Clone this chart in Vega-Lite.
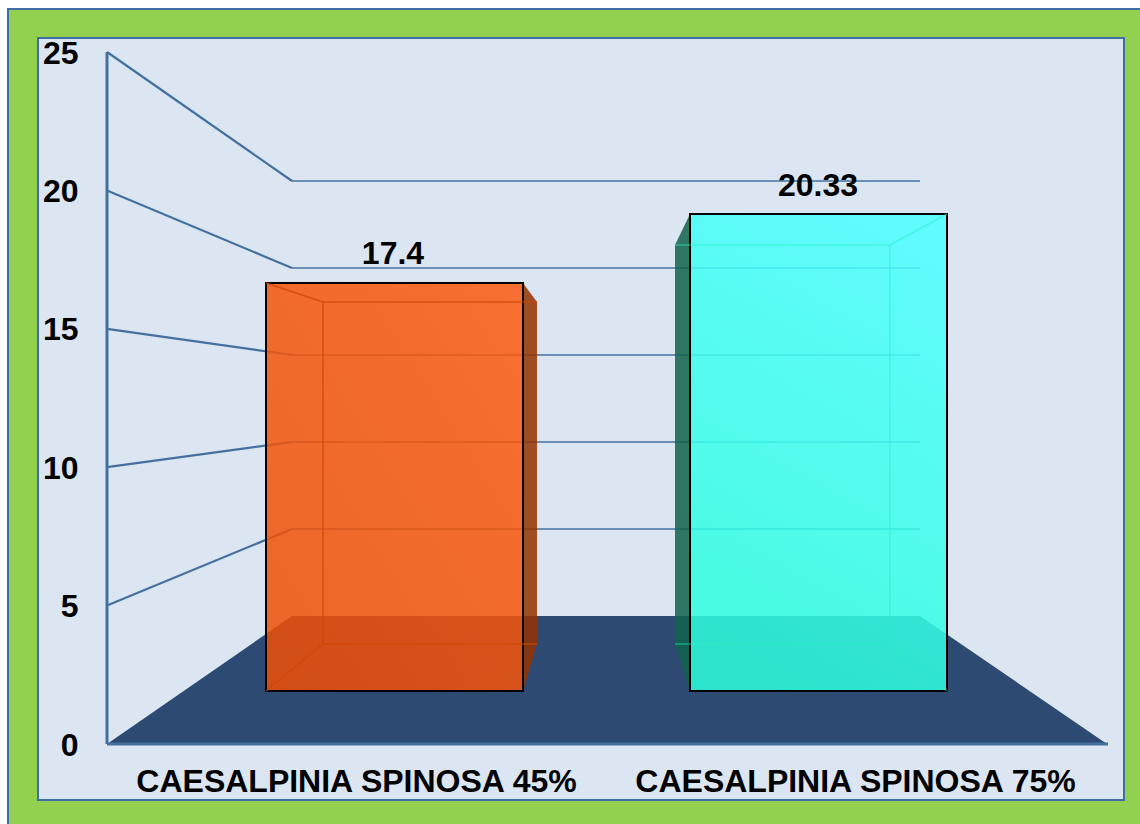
{
"$schema":"https://vega.github.io/schema/vega-lite/v6.json",
"width":1086,"height":762,"autosize":"none",
"padding":{"left":38,"top":38,"right":16,"bottom":24},
"background":"white",
"view":{"stroke":null,"fill":null},
"datasets":{
"frame":[{"part":"outer","x":-99,"x2":1060,"y":26.55,"y2":-3.5}],
"panel":[{"part":"panel","x":-69,"x2":1017,"y":25.506,"y2":-2.023}],
"floor":[{"x":0,"y":0,"y2":0},{"x":185,"y":4.624,"y2":0},{"x":813,"y":4.624,"y2":0},{"x":1000,"y":0,"y2":0}],
"slants":[
{"g":5,"x":0,"y":5},{"g":5,"x":185,"y":7.767},
{"g":10,"x":0,"y":10},{"g":10,"x":185,"y":10.91},
{"g":15,"x":0,"y":15},{"g":15,"x":185,"y":14.053},
{"g":20,"x":0,"y":20},{"g":20,"x":185,"y":17.197},
{"g":25,"x":0,"y":25},{"g":25,"x":185,"y":20.34}],
"backs":[
{"g":5,"x":185,"y":7.767},{"g":5,"x":813,"y":7.767},
{"g":10,"x":185,"y":10.91},{"g":10,"x":813,"y":10.91},
{"g":15,"x":185,"y":14.053},{"g":15,"x":813,"y":14.053},
{"g":20,"x":185,"y":17.197},{"g":20,"x":813,"y":17.197},
{"g":25,"x":185,"y":20.34},{"g":25,"x":813,"y":20.34}],
"axisLines":[
{"g":"y","x":0,"y":0},{"g":"y","x":0,"y":25},
{"g":"x","x":0,"y":0},{"g":"x","x":1001,"y":0}],
"side1":[{"x":416,"y":16.655,"y2":1.915},{"x":430,"y":15.968,"y2":3.613}],
"side2":[{"x":568,"y":18.027,"y2":3.613},{"x":583,"y":19.147,"y2":1.915}],
"bar1":[{"series":"CAESALPINIA SPINOSA 45%","value":17.4,"x":159,"x2":416,"y":16.655,"y2":1.915}],
"bar2":[{"series":"CAESALPINIA SPINOSA 75%","value":20.33,"x":583,"x2":840,"y":19.147,"y2":1.915}],
"inner1":[
{"s":"a","x":159,"y":16.655},{"s":"a","x":216,"y":15.968},
{"s":"b","x":216,"y":15.968},{"s":"b","x":430,"y":15.968},
{"s":"c","x":216,"y":15.968},{"s":"c","x":216,"y":3.613},
{"s":"d","x":216,"y":3.613},{"s":"d","x":430,"y":3.613},
{"s":"e","x":159,"y":1.915},{"s":"e","x":216,"y":3.613}],
"inner2":[
{"s":"a","x":840,"y":19.147},{"s":"a","x":783,"y":18.027},
{"s":"b","x":783,"y":18.027},{"s":"b","x":568,"y":18.027},
{"s":"c","x":783,"y":18.027},{"s":"c","x":783,"y":3.613},
{"s":"d","x":783,"y":3.613},{"s":"d","x":568,"y":3.613},
{"s":"e","x":840,"y":1.915},{"s":"e","x":783,"y":3.613}],
"valueLabels":[{"label":"17.4","x":286,"y":17.72},{"label":"20.33","x":711,"y":20.17}],
"catLabels":[{"label":"CAESALPINIA SPINOSA 45%","x":249.5,"y":-1.39},{"label":"CAESALPINIA SPINOSA 75%","x":748.5,"y":-1.39}]
},
"encoding":{
"x":{"field":"x","type":"quantitative","scale":{"domain":[-69,1017],"nice":false,"zero":false},"axis":null},
"y":{"field":"y","type":"quantitative","scale":{"domain":[-2.023,25.506],"nice":false,"zero":false},
"axis":{"title":null,"values":[0,5,10,15,20,25],"orient":"left","offset":-40,"domain":false,"ticks":false,"grid":false,"labelPadding":0,"labelOffset":1,"labelFont":"Liberation Sans","labelFontWeight":"bold","labelFontSize":32,"labelColor":"#000000","labelAlign":"right","labelBaseline":"middle","labelOverlap":false,"labelFlush":false,"zindex":2}}
},
"layer":[
{"data":{"name":"frame"},"mark":{"type":"rect","fill":"#92d050","stroke":"#3f6ea5","strokeWidth":2},"encoding":{"x2":{"field":"x2"},"y2":{"field":"y2"}}},
{"data":{"name":"panel"},"mark":{"type":"rect","fill":"#dce6f2","stroke":"#3f6ea5","strokeWidth":2},"encoding":{"x2":{"field":"x2"},"y2":{"field":"y2"}}},
{"data":{"name":"floor"},"mark":{"type":"area","fill":"#2c4a72","interpolate":"linear"},"encoding":{"y2":{"field":"y2"}}},
{"data":{"name":"slants"},"mark":{"type":"line","stroke":"#44709f","strokeWidth":2.2},"encoding":{"detail":{"field":"g"}}},
{"data":{"name":"backs"},"mark":{"type":"line","stroke":"#44709f","strokeWidth":1.5},"encoding":{"detail":{"field":"g"}}},
{"data":{"name":"axisLines"},"mark":{"type":"line","stroke":"#44709f","strokeWidth":3},"encoding":{"detail":{"field":"g"}}},
{"data":{"name":"side1"},"mark":{"type":"area","fill":"#963100","fillOpacity":0.85},"encoding":{"y2":{"field":"y2"}}},
{"data":{"name":"side2"},"mark":{"type":"area","fill":"#10614c","fillOpacity":0.85},"encoding":{"y2":{"field":"y2"}}},
{"data":{"name":"bar1"},"mark":{"type":"rect","fillOpacity":0.85,"stroke":"#000000","strokeWidth":2,"fill":{"x1":0,"y1":1,"x2":1,"y2":0,"gradient":"linear","stops":[{"offset":0,"color":"#ee4e06"},{"offset":1,"color":"#fc5a10"}]}},"encoding":{"x2":{"field":"x2"},"y2":{"field":"y2"}}},
{"data":{"name":"bar2"},"mark":{"type":"rect","fillOpacity":0.85,"stroke":"#000000","strokeWidth":2,"fill":{"x1":0.35,"y1":1,"x2":0.65,"y2":0,"gradient":"linear","stops":[{"offset":0,"color":"#2cffdc"},{"offset":1,"color":"#4affff"}]}},"encoding":{"x2":{"field":"x2"},"y2":{"field":"y2"}}},
{"data":{"name":"inner1"},"mark":{"type":"line","stroke":"#d04606","strokeOpacity":0.75,"strokeWidth":1.5},"encoding":{"detail":{"field":"s"}}},
{"data":{"name":"inner2"},"mark":{"type":"line","stroke":"#2af0c4","strokeOpacity":0.5,"strokeWidth":1.5},"encoding":{"detail":{"field":"s"}}},
{"data":{"name":"valueLabels"},"mark":{"type":"text","font":"Liberation Sans","fontWeight":"bold","fontSize":32,"color":"#000000","align":"center","baseline":"middle"},"encoding":{"text":{"field":"label"}}},
{"data":{"name":"catLabels"},"mark":{"type":"text","font":"Liberation Sans","fontWeight":"bold","fontSize":32,"color":"#000000","align":"center","baseline":"middle"},"encoding":{"text":{"field":"label"}}}
]
}
